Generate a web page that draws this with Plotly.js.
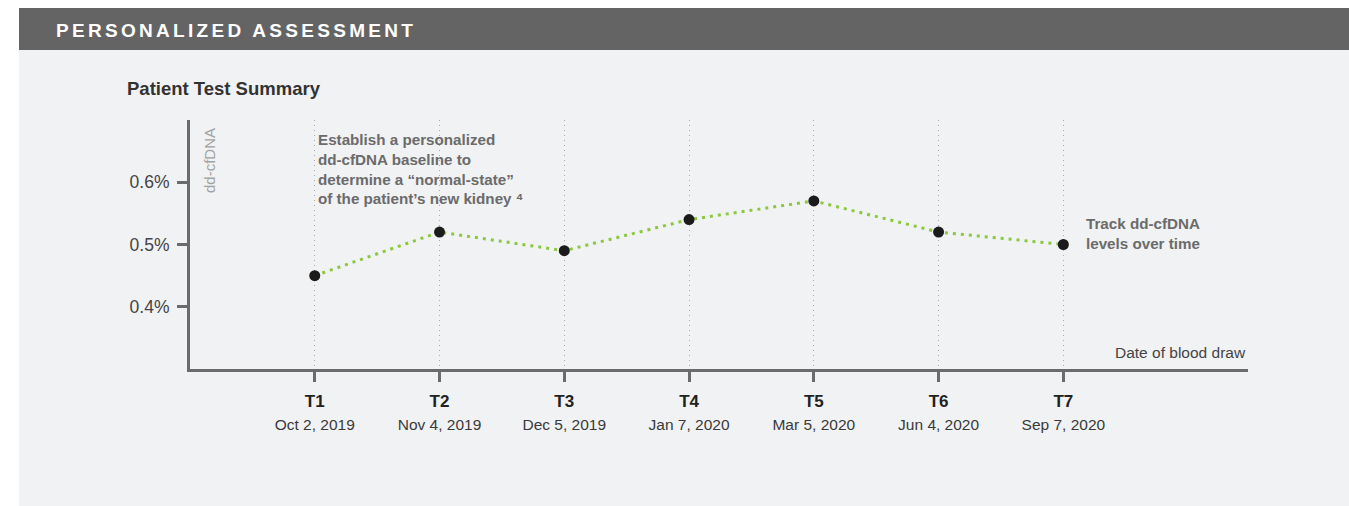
<!DOCTYPE html>
<html>
<head>
<meta charset="utf-8">
<script src="https://cdn.plot.ly/plotly-3.0.1.min.js"></script>
<style>
html,body{margin:0;padding:0;background:#ffffff;}
#chart{width:1349px;height:506px;}
</style>
</head>
<body>
<div id="chart"></div>
<script>
// ---- data ----
const timepoints = ["T1", "T2", "T3", "T4", "T5", "T6", "T7"];
const drawDates = ["Oct 2, 2019", "Nov 4, 2019", "Dec 5, 2019", "Jan 7, 2020", "Mar 5, 2020", "Jun 4, 2020", "Sep 7, 2020"];
const ddcfDNA = [0.45, 0.52, 0.49, 0.54, 0.57, 0.52, 0.50];
const yTickVals = [0.4, 0.5, 0.6];
const yTickLabels = ["0.4%", "0.5%", "0.6%"];

const headerText = "PERSONALIZED ASSESSMENT";
const chartTitle = "Patient Test Summary";
const yTitle = "dd-cfDNA";
const xTitle = "Date of blood draw";
const noteBaseline = "Establish a personalized<br>dd-cfDNA baseline to<br>determine a “normal-state”<br>of the patient’s new kidney ⁴";
const noteTrack = "Track dd-cfDNA<br>levels over time";

// ---- layout helpers ----
const W = 1349, H = 506;
const M = {l: 190, r: 101, t: 120, b: 137};
const pw = W - M.l - M.r, ph = H - M.t - M.b;
const px = v => (v - M.l) / pw;          // pixel x -> paper x
const py = v => (H - M.b - v) / ph;      // pixel y -> paper y

const FONT = '"Liberation Sans", Arial, Helvetica, sans-serif';

const tickText = timepoints.map((t, i) =>
  "<b>" + t + "</b><br><span style='font-size:15.5px;color:#3a3a3a'>" + drawDates[i] + "</span>");

const trace = {
  type: "scatter",
  mode: "lines+markers",
  x: timepoints,
  y: ddcfDNA,
  line: {color: "#8cc83c", width: 3, dash: "3px,5px"},
  marker: {color: "#1b1b1b", size: 11},
  hoverinfo: "skip",
  showlegend: false
};

const layout = {
  width: W, height: H,
  margin: M,
  paper_bgcolor: "#ffffff",
  plot_bgcolor: "rgba(0,0,0,0)",
  font: {family: FONT, color: "#444"},
  title: {
    text: "<b>" + chartTitle + "</b>",
    font: {family: FONT, size: 18.5, color: "#333"},
    xref: "container", yref: "container",
    x: 127 / W, xanchor: "left",
    y: 1 - 89 / H, yanchor: "middle"
  },
  xaxis: {
    type: "category",
    range: [-1, 7.48],
    tickmode: "array",
    tickvals: timepoints,
    ticktext: tickText,
    tickfont: {family: FONT, size: 17, color: "#222"},
    ticklabelstandoff: 5,
    showline: true, linecolor: "#6b6b6b", linewidth: 3,
    ticks: "outside", ticklen: 10, tickwidth: 3, tickcolor: "#6b6b6b",
    showgrid: true, gridcolor: "#a8a8a8", gridwidth: 1, griddash: "1px,4px",
    zeroline: false, fixedrange: true
  },
  yaxis: {
    range: [0.3, 0.7],
    tickmode: "array",
    tickvals: yTickVals,
    ticktext: yTickLabels,
    tickfont: {family: FONT, size: 17.5, color: "#444"},
    showline: true, linecolor: "#6b6b6b", linewidth: 3,
    ticks: "outside", ticklen: 10, tickwidth: 3, tickcolor: "#6b6b6b",
    ticklabelstandoff: 4,
    showgrid: false, zeroline: false, fixedrange: true
  },
  shapes: [
    {type: "rect", xref: "paper", yref: "paper", layer: "below",
     x0: px(19), x1: px(W), y0: py(H), y1: py(50),
     fillcolor: "#f1f2f4", line: {width: 0}},
    {type: "rect", xref: "paper", yref: "paper", layer: "below",
     x0: px(19), x1: px(W), y0: py(50), y1: py(8),
     fillcolor: "#646465", line: {width: 0}}
  ],
  annotations: [
    {text: "<b><span style='letter-spacing:3.3px'>" + headerText + "</span></b>",
     xref: "paper", yref: "paper", x: px(54), y: py(30.3),
     xanchor: "left", yanchor: "middle", showarrow: false,
     font: {family: FONT, size: 19, color: "#ffffff"}},
    {text: yTitle, textangle: -90,
     xref: "paper", yref: "paper", x: px(209), y: py(161),
     xanchor: "center", yanchor: "middle", showarrow: false,
     font: {family: FONT, size: 15, color: "#a2a2a2"}},
    {text: xTitle,
     xref: "paper", yref: "paper", x: 1, y: py(352.5),
     xanchor: "right", yanchor: "middle", showarrow: false,
     font: {family: FONT, size: 15.5, color: "#444"}},
    {text: "<b>" + noteBaseline + "</b>", align: "left",
     xref: "x", yref: "paper", x: timepoints[0], xshift: 1, y: py(129),
     xanchor: "left", yanchor: "top", showarrow: false,
     font: {family: FONT, size: 15.2, color: "#6b6b6b"}},
    {text: "<b>" + noteTrack + "</b>", align: "left",
     xref: "x", yref: "paper", x: timepoints[6], xshift: 21, y: py(233.3),
     xanchor: "left", yanchor: "middle", showarrow: false,
     font: {family: FONT, size: 15.2, color: "#6b6b6b"}}
  ]
};

Plotly.newPlot("chart", [trace], layout, {displayModeBar: false, staticPlot: true});
</script>
</body>
</html>
